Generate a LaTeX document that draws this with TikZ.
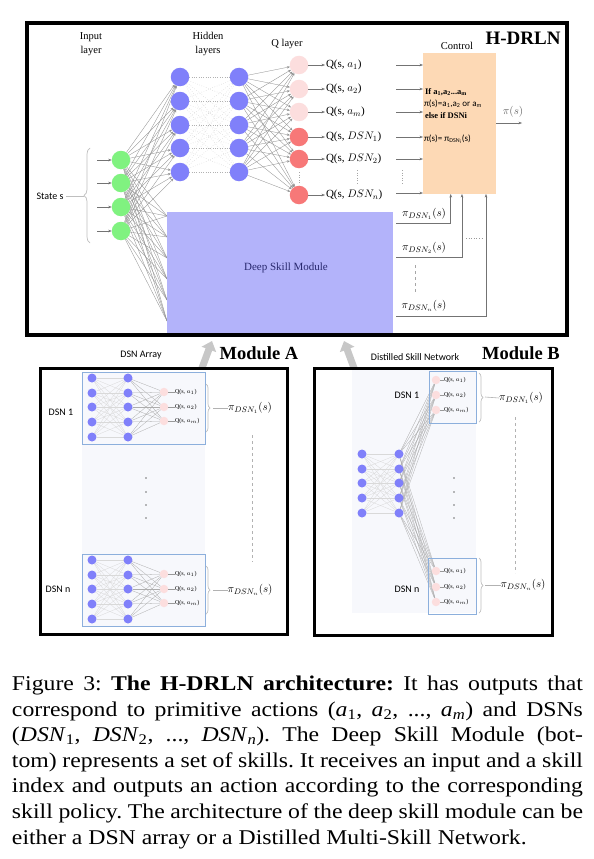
\documentclass[tikz,border=0pt]{standalone}
\usepackage{fontspec}
\setmainfont{Liberation Serif}
\newfontfamily\carl{Carlito}
\newfontfamily\capfont[FakeStretch=1.13]{Liberation Serif}
\usetikzlibrary{arrows.meta,decorations.pathreplacing,calc}
\pgfdeclarelayer{bg}
\pgfdeclarelayer{paper}
\pgfsetlayers{paper,bg,main}
\definecolor{nodeblue}{RGB}{128,128,250}
\definecolor{nodegreen}{RGB}{128,242,128}
\definecolor{qpink}{RGB}{252,222,222}
\definecolor{qred}{RGB}{247,120,120}
\definecolor{ctrlc}{RGB}{253,217,181}
\definecolor{dsmc}{RGB}{179,179,250}
\definecolor{dsmtext}{RGB}{40,40,110}
\definecolor{boxblue}{RGB}{140,175,220}
\definecolor{bgpale}{RGB}{247,248,252}
\frenchspacing
\begin{document}
\begin{tikzpicture}[x=1pt,y=-1pt,
  every node/.style={inner sep=0pt, outer sep=0pt},
  gnode/.style={circle, fill=nodegreen, minimum size=18.5pt},
  bnode/.style={circle, fill=nodeblue, minimum size=18.5pt},
  qnode/.style={circle, minimum size=18.5pt},
  snode/.style={circle, fill=nodeblue, minimum size=9pt},
  sqnode/.style={circle, fill=qpink, minimum size=8.5pt},
  qlab/.style={anchor=west, font=\fontsize{11}{13}\selectfont},
  tinylab/.style={anchor=west, font=\fontsize{6}{7}\selectfont},
  pilab/.style={font=\fontsize{11}{13}\selectfont},
  conn/.style={draw=black!42, line width=0.35pt, -{Stealth[length=3pt,width=2.4pt]}},
  dotconn/.style={draw=black!30, line width=0.35pt, dotted},
  sarrow/.style={draw=black!55, line width=0.5pt, -{Stealth[length=3.5pt,width=2.6pt]}},
  thinline/.style={draw=black!40, line width=0.5pt},
  lightconn/.style={draw=black!15, line width=0.3pt},
  midconn/.style={draw=black!32, line width=0.3pt},
  frame/.style={draw=black, line width=3.5pt},
  dsnbox/.style={draw=boxblue, line width=0.7pt},
  bracestyle/.style={draw=black!25, line width=0.7pt, decorate, decoration={brace, amplitude=4pt}},
  bigarrow/.style={draw=black!22, line width=7pt, -{Triangle[length=9pt,width=15pt]}},
  sans/.style={font=\carl\fontsize{10}{12}\selectfont},
  modlab/.style={font=\bfseries\fontsize{18.5}{22}\selectfont}
]
\useasboundingbox (0,0) rectangle (594,859);
\begin{pgfonlayer}{paper}
  \fill[white] (0,0) rectangle (594,859);
  \fill[bgpale] (82,372) rectangle (205,626);
  \fill[bgpale] (352,370) rectangle (476,613);
\end{pgfonlayer}

% ---------- top network nodes ----------
\foreach \y [count=\i] in {160,183,207,231} \node[gnode] (g\i) at (121,\y) {};
\foreach \y [count=\i] in {77,101,125,148,172} {
  \node[bnode] (h\i) at (180,\y) {};
  \node[bnode] (k\i) at (239,\y) {};
}
\foreach \y/\c [count=\i] in {65/qpink,89/qpink,112/qpink,137/qred,159/qred,195/qred}
  \node[qnode,fill=\c] (q\i) at (299,\y) {};
\foreach \y/\t [count=\i] in {65/{$a_1$},89/{$a_2$},112/{$a_m$},137/{$DSN_1$},159/{$DSN_2$},195/{$DSN_n$}}
  \node[qlab] (ql\i) at (326,\y) {Q(s, \t)};

\node[align=center, font=\fontsize{10.5}{14}\selectfont] (inlab) at (91,44) {Input\\layer};
\node[align=center, font=\fontsize{10.5}{14}\selectfont] (hidlab) at (208,44) {Hidden\\layers};
\node[font=\fontsize{10.5}{13}\selectfont] (qlayer) at (287,44) {Q layer};

% control
\node[fill=ctrlc, minimum width=73, minimum height=141] (ctrl) at (459.5,123.5) {};
\node[font=\fontsize{10.5}{13}\selectfont] (ctrllab) at (457,46) {Control};
\node[anchor=west, font=\bfseries\fontsize{8.5}{10}\selectfont] (c1) at (425,92) {If a\textsubscript{1},a\textsubscript{2}...a\textsubscript{m}};
\node[anchor=west, font=\carl\fontsize{9}{10}\selectfont] (c2) at (424,104) {π(s)=a\textsubscript{1},a\textsubscript{2} or a\textsubscript{m}};
\node[anchor=west, font=\bfseries\fontsize{8.5}{10}\selectfont] (c3) at (425,116) {else if DSNi};
\node[anchor=west, font=\carl\fontsize{9}{10}\selectfont] (c4) at (424,139) {π(s)= π\textsubscript{DSN\textsubscript{i}}(s)};

\foreach \y [count=\i] in {65,89,112,137,159,193} {
  \coordinate (cs\i) at (396,\y);
  \draw[sarrow] (cs\i) -- (cs\i -| ctrl.west);
}
\coordinate (pout) at (522,123);
\draw[sarrow] (ctrl.east |- pout) -- (pout);
\node[pilab, text=black!60] (pilab) at (513,112) {$\pi(s)$};

% deep skill module
\node[fill=dsmc, minimum width=226, minimum height=123] (dsm) at (280,273.5) {};
\node[text=dsmtext, font=\fontsize{11}{13}\selectfont] (dsmlab) at (286,268) {Deep Skill Module};
\foreach \y [count=\j] in {216,237,258,279,300,321} \coordinate (d\j) at (167,\y);

% policy return lines
\coordinate (pl1) at (396,223);
\coordinate (pl2) at (396,257);
\coordinate (pl3) at (396,316);
\draw[sarrow] (pl1) -| ($(ctrl.south west)!0.38!(ctrl.south east)$);
\draw[sarrow] (pl2) -| ($(ctrl.south west)!0.534!(ctrl.south east)$);
\draw[sarrow] (pl3) -| ($(ctrl.south west)!0.863!(ctrl.south east)$);
\node[pilab] (pd1) at (424,214) {$\pi_{DSN_1}(s)$};
\node[pilab] (pd2) at (424,248) {$\pi_{DSN_2}(s)$};
\node[pilab] (pd3) at (424,306) {$\pi_{DSN_n}(s)$};
\draw[black!35, dashed, line width=0.5pt] (415,265) -- (415,292);
\draw[black!40, dotted, line width=0.6pt] (466,238) -- (482,238);

% state label and brace
\node[font=\carl\fontsize{10}{12}\selectfont] (state) at (50,196) {State s};
\coordinate (stb) at (84,196);
\draw[black!25, line width=0.6pt] (state.east) ++(3,0) -- (stb);
\draw[bracestyle, decoration={brace, amplitude=6pt}] (90,243) -- (90,148);
\foreach \i in {1,...,4} {
  \coordinate (gi\i) at (97,0 |- g\i);
  \draw[sarrow] (gi\i) -- (g\i);
}

\draw[dotted, black!35, line width=0.6pt] (299,172) -- (299,185);
\draw[dotted, black!35, line width=0.6pt] (357,170) -- (357,184);
\draw[dotted, black!35, line width=0.6pt] (402,170) -- (402,184);

\node[font=\bfseries\fontsize{19}{22}\selectfont] (title) at (523,38) {H-DRLN};

% connections of top network
\begin{pgfonlayer}{bg}
  \foreach \i in {1,...,4} {
    \foreach \j in {1,...,5} \draw[conn] (g\i) -- (h\j);
    \foreach \j in {1,...,6} \draw[draw=black!42, line width=0.35pt] (g\i) -- (d\j);
  }
  \foreach \i in {1,...,5} {
    \foreach \j in {1,...,5} \draw[dotconn] (h\i) -- (k\j);
    \foreach \j in {1,...,6} \draw[conn] (k\i) -- (q\j);
  }
\end{pgfonlayer}
\foreach \i in {1,...,6} \draw[sarrow, shorten >=1pt] (q\i) -- (ql\i);

% big module arrows
\coordinate (maA) at (202,368);
\coordinate (maB) at (354,368);
\draw[bigarrow] (maA) -- ++(10,-27);
\draw[bigarrow] (maB) -- ++(-10,-27);

% top frame
\draw[frame] (27,23) rectangle (567,335);

% ---------- Module A ----------
\node[modlab] (modA) at (259,353) {Module A};
\node[sans] (dsnarr) at (141,355) {DSN Array};
\foreach \blk/\yo in {1/0, n/182} {
  \node[dsnbox, minimum width=123, minimum height=72] (Abox\blk) at (143.5,408+\yo) {};
  \foreach \y [count=\i] in {378,393,407,422,437} {
    \node[snode] (Aa\blk-\i) at (92,\y+\yo) {};
    \node[snode] (Ab\blk-\i) at (128,\y+\yo) {};
  }
  \foreach \y/\t [count=\j] in {392/{$a_1$},407/{$a_2$},421/{$a_m$}} {
    \node[sqnode] (Aq\blk-\j) at (164,\y+\yo) {};
    \node[tinylab] (Al\blk-\j) at (175,\y+\yo) {Q(s, \t)};
    \draw[thinline] (Aq\blk-\j) -- (Al\blk-\j);
  }
  \draw[bracestyle] (206,384+\yo) -- (206,432+\yo);
  \coordinate (Abt\blk) at (213,408+\yo);
  \node[pilab] (Api\blk) at (250,408+\yo) {$\pi_{DSN_\blk}(s)$};
  \draw[black!30, line width=0.6pt] (Abt\blk) -- (Api\blk.west);
  \begin{pgfonlayer}{bg}
    \foreach \i in {1,...,5} {
      \foreach \k in {1,...,5} \draw[lightconn] (Aa\blk-\i) -- (Ab\blk-\k);
      \foreach \k in {1,...,3} \draw[midconn] (Ab\blk-\i) -- (Aq\blk-\k);
    }
  \end{pgfonlayer}
}
\node[sans] (Adsn1) at (61,412) {DSN 1};
\node[sans] (Adsnn) at (58,589) {DSN n};
\foreach \y in {478,492,505,518} \fill[black!55] (146,\y) circle (0.9);
\draw[black!30, dashed, line width=0.6pt] (252,435) -- (252,562);
\draw[frame, line width=3pt] (40,368) rectangle (287,634);

% ---------- Module B ----------
\node[modlab] (modB) at (521,353) {Module B};
\node[sans] (distlab) at (415,357) {Distilled Skill Network};
\foreach \y [count=\i] in {454,469,483,498,513} {
  \node[snode] (Bc\i) at (362,\y) {};
  \node[snode] (Bd\i) at (399,\y) {};
}
\node[dsnbox, minimum width=47, minimum height=52] (Bbox1) at (452.5,397) {};
\node[dsnbox, minimum width=48, minimum height=56] (Bboxn) at (452,586) {};
\foreach \y/\t [count=\j] in {380/{$a_1$},395/{$a_2$},410/{$a_m$}} {
  \node[sqnode] (Bq\j) at (436,\y) {};
  \node[tinylab] (Bl\j) at (444,\y) {Q(s, \t)};
  \draw[thinline] (Bq\j) -- (Bl\j);
}
\foreach \y/\t [count=\j from 4] in {571/{$a_1$},587/{$a_2$},602/{$a_m$}} {
  \node[sqnode] (Bq\j) at (436,\y) {};
  \node[tinylab] (Bl\j) at (444,\y) {Q(s, \t)};
  \draw[thinline] (Bq\j) -- (Bl\j);
}
\begin{pgfonlayer}{bg}
  \foreach \i in {1,...,5} {
    \foreach \k in {1,...,5} \draw[lightconn] (Bc\i) -- (Bd\k);
    \foreach \k in {1,...,6} \draw[midconn] (Bd\i) -- (Bq\k);
  }
\end{pgfonlayer}
\node[sans] (Bdsn1) at (407,395) {DSN 1};
\node[sans] (Bdsnn) at (407,589) {DSN n};
\draw[bracestyle] (479,373) -- (479,422);
\coordinate (Bbt1) at (485,397);
\node[pilab] (Bpi1) at (521,398) {$\pi_{DSN_1}(s)$};
\draw[black!30, line width=0.6pt] (Bbt1) -- (Bpi1.west);
\draw[bracestyle] (479,558) -- (479,613);
\coordinate (Bbtn) at (485,585);
\node[pilab] (Bpin) at (523,585) {$\pi_{DSN_n}(s)$};
\draw[black!30, line width=0.6pt] (Bbtn) -- (Bpin.west);
\foreach \y in {478,492,505,518} \fill[black!55] (454,\y) circle (0.9);
\draw[black!30, dashed, line width=0.6pt] (515,417) -- (515,573);
\draw[frame, line width=3pt] (314,368) rectangle (552,635);

% ---------- caption ----------
\node[anchor=north west, text width=571pt, align=justify,
      font=\capfont\fontsize{21}{25.6}\selectfont] (caption) at (12,676) {%
Figure 3: \textbf{The H-DRLN architecture:} It has outputs that\linebreak
correspond to primitive actions (\textit{a}\textsubscript{1}, \textit{a}\textsubscript{2}, ..., \textit{a}\textsubscript{\textit{m}}) and DSNs\linebreak
(\textit{DSN}\textsubscript{1}, \textit{DSN}\textsubscript{2}, ..., \textit{DSN}\textsubscript{\textit{n}}). The Deep Skill Module (bot-\linebreak
tom) represents a set of skills. It receives an input and a skill\linebreak
index and outputs an action according to the corresponding\linebreak
skill policy. The architecture of the deep skill module can be\linebreak
either a DSN array or a Distilled Multi-Skill Network.};
\end{tikzpicture}
\end{document}
